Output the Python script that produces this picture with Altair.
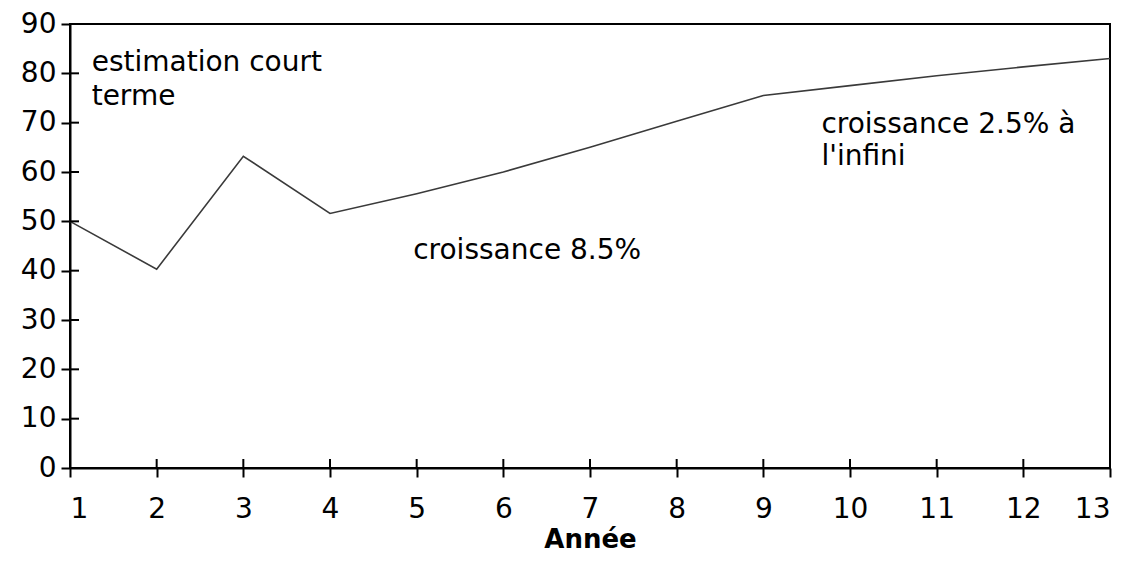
import altair as alt
import pandas as pd

annees = [1, 2, 3, 4, 5, 6, 7, 8, 9, 10, 11, 12, 13]
valeurs = [50, 40.3, 63.2, 51.6, 55.6, 60, 65, 70.3, 75.5, 77.5, 79.5, 81.3, 83]

x_ticks = list(range(1, 14))
y_ticks = list(range(0, 91, 10))

ann_text = [["estimation court", "terme"], ["croissance 8.5%"], ["croissance 2.5% à", "l'infini"]]
ann_x = [1.25, 4.96, 9.67]
ann_y = [80.5, 42.4, 68]
ann_lh = [34, 30, 32]

FONT = "DejaVu Sans"
W, H = 1040, 444

df = pd.DataFrame({"Année": annees, "Valeur": valeurs})
ann = pd.DataFrame({"x": ann_x, "y": ann_y, "t": ann_text, "lh": ann_lh})

xs = alt.Scale(domain=[1, 13], nice=False, zero=False)
ys = alt.Scale(domain=[0, 90], nice=False)

line = alt.Chart(df).mark_line(color="#3a3a3a", strokeWidth=1.6).encode(
    x=alt.X("Année:Q", scale=xs,
            axis=alt.Axis(values=x_ticks, title="Année", format="d", grid=False,
                          domainColor="black", domainWidth=2, tickColor="black",
                          tickWidth=2, tickSize=9, labelFont=FONT, labelFontSize=28,
                          labelColor="black", labelPadding=18, titleFont=FONT,
                          titleFontSize=26, titleFontWeight="bold", titleColor="black",
                          titlePadding=3)),
    y=alt.Y("Valeur:Q", scale=ys,
            axis=alt.Axis(values=y_ticks, title=None, grid=False,
                          domainColor="black", domainWidth=2, tickColor="black",
                          tickWidth=2, tickSize=9, labelFont=FONT, labelFontSize=28,
                          labelColor="black", labelPadding=5)),
)

tick_y = alt.Chart(pd.DataFrame({"v": y_ticks})).mark_rule(color="black", strokeWidth=2).encode(
    y=alt.Y("v:Q", scale=ys), x=alt.value(0), x2=alt.value(9)
)
tick_x = alt.Chart(pd.DataFrame({"v": x_ticks})).mark_rule(color="black", strokeWidth=2).encode(
    x=alt.X("v:Q", scale=xs), y=alt.value(H), y2=alt.value(H - 9)
)

layers = [line, tick_y, tick_x]
for i in range(len(ann_text)):
    sub = ann.iloc[[i]]
    layers.append(
        alt.Chart(sub).mark_text(align="left", baseline="alphabetic", font=FONT,
                                 fontSize=28, color="black", lineHeight=ann_lh[i]).encode(
            x=alt.X("x:Q", scale=xs), y=alt.Y("y:Q", scale=ys), text="t"
        )
    )

chart = alt.layer(*layers).properties(
    width=W, height=H,
    autosize=alt.AutoSizeParams(type="none"),
    padding={"left": 62, "top": 16, "right": 20, "bottom": 92},
).configure(background="white").configure_view(stroke="black", strokeWidth=2)

chart.save("out.html", embed_options={"renderer": "svg", "actions": False})
